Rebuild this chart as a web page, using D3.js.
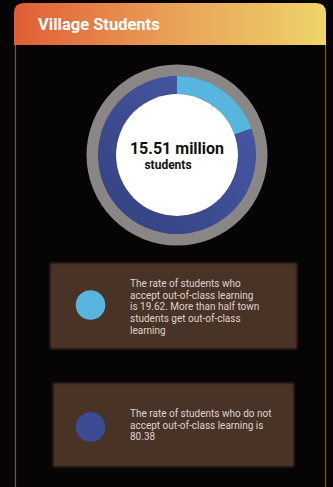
<!DOCTYPE html>
<html>
<head>
<meta charset="utf-8">
<script src="https://cdn.jsdelivr.net/npm/d3@7"></script>
<style>
  html, body { margin: 0; padding: 0; background: #060404; }
  svg { display: block; font-family: Roboto, "Noto Sans", sans-serif; }
</style>
</head>
<body>
<div id="chart"></div>
<script>
// chart data
const title = "Village Students";
const categories = ["Accept out-of-class learning", "Do not accept out-of-class learning"];
const values = [19.62, 80.38];
const colors = ["#58b5de", "#3b4c95"];
const totalLabel = ["15.51 million", "students"];
const notes = [
    ["The rate of students who", "accept out-of-class learning", "is 19.62. More than half town", "students get out-of-class", "learning"],
    ["The rate of students who do not", "accept out-of-class learning is", "80.38"]
];

const width = 333;
const height = 487;

const svg = d3.select("#chart")
    .append("svg")
    .attr("width", width)
    .attr("height", height);

const defs = svg.append("defs");

const headGrad = defs.append("linearGradient").attr("id", "headGrad");
headGrad.append("stop").attr("offset", "0%").attr("stop-color", "#e05d36");
headGrad.append("stop").attr("offset", "50%").attr("stop-color", "#e9a057");
headGrad.append("stop").attr("offset", "100%").attr("stop-color", "#eed46a");

const ringGrad = defs.append("linearGradient").attr("id", "ringGrad")
    .attr("x1", "0%").attr("y1", "100%").attr("x2", "100%").attr("y2", "0%");
ringGrad.append("stop").attr("offset", "0%").attr("stop-color", "#33417f");
ringGrad.append("stop").attr("offset", "100%").attr("stop-color", "#4a5aa9");

defs.append("filter").attr("id", "soft")
    .attr("x", "-10%").attr("y", "-20%").attr("width", "120%").attr("height", "140%")
    .append("feGaussianBlur").attr("stdDeviation", 1.3);

svg.append("rect").attr("width", width).attr("height", height).attr("fill", "#060404");

// panel borders
svg.append("line").attr("x1", 15.5).attr("x2", 15.5).attr("y1", 40).attr("y2", height)
    .attr("stroke", "#7a5a32").attr("stroke-width", 1.2);
svg.append("line").attr("x1", 325.5).attr("x2", 325.5).attr("y1", 40).attr("y2", height)
    .attr("stroke", "#7a5a32").attr("stroke-width", 1.2);

// header with rounded top corners
const hx = 14, hy = 3, hw = 312, hh = 42, r = 10;
svg.append("path")
    .attr("d", `M${hx},${hy + hh} V${hy + r} Q${hx},${hy} ${hx + r},${hy} H${hx + hw - r} Q${hx + hw},${hy} ${hx + hw},${hy + r} V${hy + hh} Z`)
    .attr("fill", "url(#headGrad)");
svg.append("text")
    .attr("x", 38).attr("y", 30)
    .attr("fill", "#fff")
    .attr("font-size", 16.5)
    .attr("font-weight", "bold")
    .text(title);

// donut
const cx = 177, cy = 155;
const g = svg.append("g").attr("transform", `translate(${cx},${cy})`);

g.append("circle").attr("r", 84.5).attr("fill", "none")
    .attr("stroke", "#8b8686").attr("stroke-width", 12);

const pie = d3.pie().sort(null).value(d => d)(values);
const arc = d3.arc().innerRadius(61).outerRadius(79);

g.selectAll("path.slice")
    .data(pie)
    .enter()
    .append("path")
    .attr("class", "slice")
    .attr("d", arc)
    .attr("fill", (d, i) => i === 0 ? colors[0] : "url(#ringGrad)");

g.append("circle").attr("r", 61).attr("fill", "#fff");

g.append("text")
    .attr("x", 0).attr("y", -1)
    .attr("text-anchor", "middle")
    .attr("font-size", 16)
    .attr("font-weight", "bold")
    .attr("fill", "#111")
    .text(totalLabel[0]);
g.append("text")
    .attr("x", -9).attr("y", 14)
    .attr("text-anchor", "middle")
    .attr("font-size", 12)
    .attr("font-weight", "bold")
    .attr("fill", "#111")
    .text(totalLabel[1]);

// legend cards
const cards = [
    { x: 50, y: 263, w: 247, h: 86, cy: 305, ty: 287 },
    { x: 53, y: 383, w: 241, h: 84, cy: 427, ty: 417 }
];

cards.forEach((c, i) => {
    svg.append("rect")
        .attr("x", c.x).attr("y", c.y)
        .attr("width", c.w).attr("height", c.h)
        .attr("fill", "#4a3128")
        .attr("filter", "url(#soft)");
    svg.append("circle")
        .attr("cx", 90.5).attr("cy", c.cy).attr("r", 14.8)
        .attr("fill", colors[i]);
    const t = svg.append("text")
        .attr("fill", "#ddd4ce")
        .attr("font-size", 10)
        .attr("aria-label", categories[i]);
    notes[i].forEach((line, j) => {
        t.append("tspan")
            .attr("x", 130)
            .attr("y", c.ty + j * 11.7)
            .text(line);
    });
});
</script>
</body>
</html>
